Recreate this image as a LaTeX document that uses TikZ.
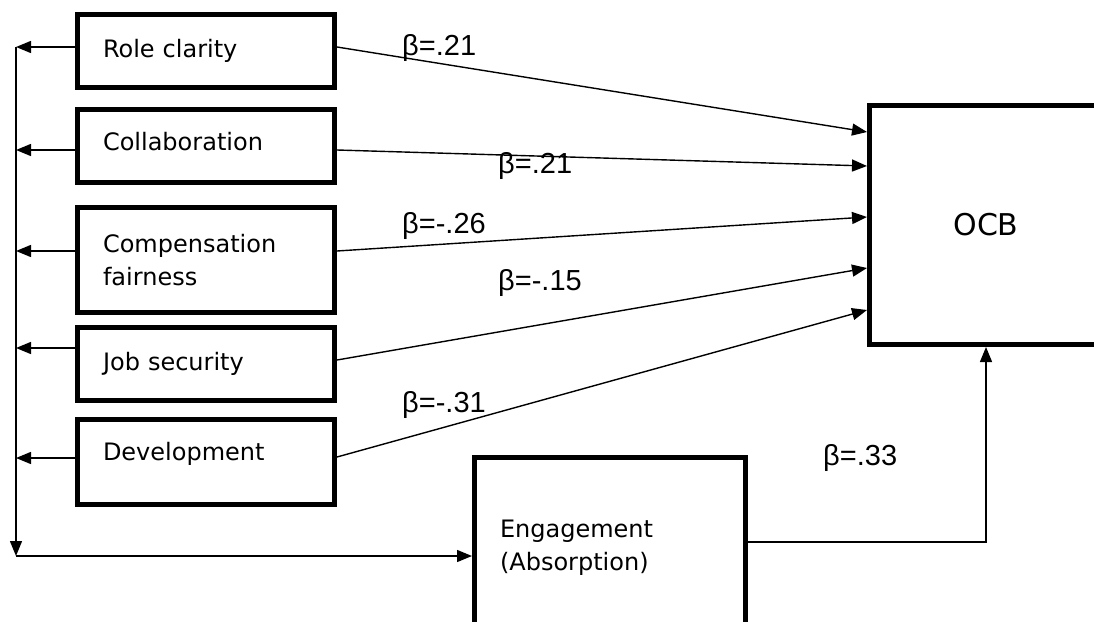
\documentclass[tikz,border=0pt]{standalone}
\usepackage{fontspec}
\setmainfont{DejaVu Sans}
\newfontfamily\betafont{Liberation Sans}
\usetikzlibrary{arrows.meta}

\begin{document}
\begin{tikzpicture}[x=1pt,y=-1pt,
    factor/.style={draw,line width=5pt,inner xsep=25.5pt,inner ysep=2pt,
        text width=#1,align=left,font=\fontsize{24}{33}\selectfont},
    factor/.default=206pt,
    link/.style={line width=1.4pt,-{Triangle[length=15pt,width=12pt]}},
    beta/.style={inner sep=0pt,anchor=base west,font=\betafont\fontsize{29}{34}\selectfont}]
        %% Frame
        \useasboundingbox (0,0) rectangle (1094,621);
        \clip (0,0) rectangle (1094,621);
        %% Predictors
        \node[factor,minimum height=73pt]  (role)   at (206,51)  {Role clarity};
        \node[factor,minimum height=73pt,text depth=10pt] (collab) at (206,146) {Collaboration};
        \node[factor,minimum height=105pt] (comp)   at (206,260) {Compensation\\fairness};
        \node[factor,minimum height=73pt]  (job)    at (206,364) {Job security};
        \node[factor,minimum height=85pt,text depth=22pt] (dev) at (206,462) {Development};
        %% Mediator and outcome
        \node[factor=220pt,minimum height=180pt] (eng) at (610,547.5) {Engagement\\(Absorption)};
        \node[draw,line width=5pt,minimum width=233pt,minimum height=239pt,
            font=\fontsize{30}{36}\selectfont] (ocb) at (986,225) {OCB};
        %% Spine on the left
        \coordinate (spinetop) at (16,47);
        \coordinate (spinebot) at (16,556);
        \draw[link] (spinetop) -- (spinebot);
        \draw[link] (spinebot) -- (spinebot -| eng.west);
        \draw[link] ([yshift=4pt]role.west)    -- ([yshift=4pt]role.west -| spinetop);
        \draw[link] ([yshift=-4pt]collab.west) -- ([yshift=-4pt]collab.west -| spinetop);
        \draw[link] ([yshift=9pt]comp.west)    -- ([yshift=9pt]comp.west -| spinetop);
        \draw[link] ([yshift=16pt]job.west)    -- ([yshift=16pt]job.west -| spinetop);
        \draw[link] ([yshift=4pt]dev.west)     -- ([yshift=4pt]dev.west -| spinetop);
        %% Paths to OCB
        \draw[link] ([yshift=4pt]role.east)    -- ([yshift=93pt]ocb.west);
        \draw[link] ([yshift=-4pt]collab.east) -- ([yshift=59pt]ocb.west);
        \draw[link] ([yshift=9pt]comp.east)    -- ([yshift=8pt]ocb.west);
        \draw[link] ([yshift=4pt]job.east)     -- ([yshift=-43pt]ocb.west);
        \draw[link] ([yshift=5pt]dev.east)     -- ([yshift=-85pt]ocb.west);
        \draw[link] ([yshift=5.5pt]eng.east)   -| (ocb.south);
        %% Coefficients
        \node[beta] (b1) at (402,55)  {β=.21};
        \node[beta] (b2) at (498,173) {β=.21};
        \node[beta] (b3) at (402,233) {β=-.26};
        \node[beta] (b4) at (498,290) {β=-.15};
        \node[beta] (b5) at (402,412) {β=-.31};
        \node[beta] (b6) at (823,465) {β=.33};
    \end{tikzpicture}
\end{document}
